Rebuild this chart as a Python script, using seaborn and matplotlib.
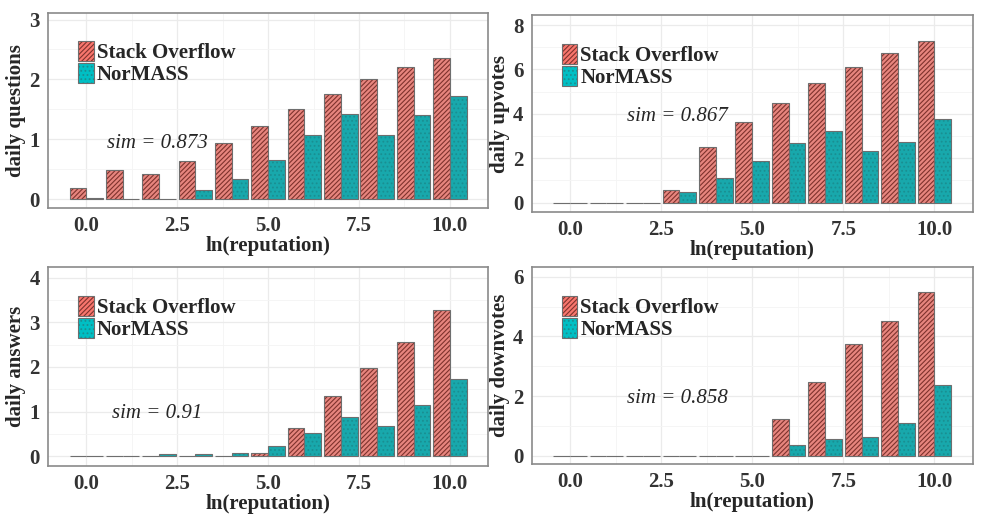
import numpy as np
import pandas as pd
import matplotlib
matplotlib.use('Agg')
import matplotlib.pyplot as plt
import matplotlib.patches as mpatches
from matplotlib.colors import to_rgba
from matplotlib.ticker import MultipleLocator, FormatStrFormatter
import seaborn as sns

# 数据 (ln(reputation) 分组 0..10)
reputation = list(range(11))
sources = ['Stack Overflow', 'NorMASS']

questions_so = [0.18, 0.49, 0.42, 0.64, 0.93, 1.22, 1.50, 1.76, 2.01, 2.21, 2.36]
questions_nm = [0.02, 0.00, 0.01, 0.16, 0.34, 0.66, 1.07, 1.43, 1.07, 1.40, 1.73]

upvotes_so = [0.0, 0.0, 0.0, 0.58, 2.53, 3.63, 4.51, 5.39, 6.13, 6.74, 7.30]
upvotes_nm = [0.0, 0.0, 0.0, 0.48, 1.11, 1.89, 2.67, 3.24, 2.35, 2.74, 3.78]

answers_so = [0.0, 0.0, 0.0, 0.0, 0.0, 0.07, 0.64, 1.35, 1.98, 2.57, 3.27]
answers_nm = [0.0, 0.0, 0.06, 0.045, 0.08, 0.24, 0.52, 0.87, 0.68, 1.14, 1.73]

downvotes_so = [0.0, 0.0, 0.0, 0.0, 0.0, 0.0, 1.23, 2.47, 3.74, 4.53, 5.49]
downvotes_nm = [0.0, 0.0, 0.0, 0.0, 0.0, 0.0, 0.35, 0.57, 0.64, 1.09, 2.37]

panels = [
    ('daily questions', questions_so, questions_nm, 'sim = 0.873'),
    ('daily upvotes', upvotes_so, upvotes_nm, 'sim = 0.867'),
    ('daily answers', answers_so, answers_nm, 'sim = 0.91'),
    ('daily downvotes', downvotes_so, downvotes_nm, 'sim = 0.858'),
]

# 样式
sns.set_style('white')
plt.rcParams['font.family'] = ['Liberation Serif', 'DejaVu Serif']
plt.rcParams['hatch.linewidth'] = 0.8

colors = {'Stack Overflow': '#F8766D', 'NorMASS': '#00BFC4'}
hatches = {'Stack Overflow': '///////', 'NorMASS': '....'}
hatch_colors = {'Stack Overflow': '#7e322d', 'NorMASS': '#1a8f92'}
edge = '#6e6e6e'


def style_patch(p, src):
    """填充纹理 + 灰色边框（纹理颜色单独设置）"""
    p.set_hatch(hatches[src])
    p.set_edgecolor(edge)
    p.set_linewidth(0.8)
    if hasattr(p, 'set_hatchcolor'):
        p.set_hatchcolor(hatch_colors[src])
    else:
        p._hatch_color = to_rgba(hatch_colors[src])


rects = [
    [0.049, 0.599, 0.4485, 0.376],
    [0.542, 0.5915, 0.4495, 0.3795],
    [0.049, 0.102, 0.4485, 0.3835],
    [0.542, 0.106, 0.4495, 0.3795],
]
ylims = [(-0.15, 3.11), (-0.42, 8.45), (-0.22, 4.24), (-0.28, 6.33)]
ysteps = [1, 2, 1, 2]
sim_pos = [(0.248, 0.333), (0.33, 0.484), (0.249, 0.266), (0.331, 0.335)]

fig = plt.figure(figsize=(9.81, 5.19), dpi=100)

for i, (ylabel, so, nm, sim) in enumerate(panels):
    ax = fig.add_axes(rects[i])
    df = pd.DataFrame({
        'rep': reputation * 2,
        'source': ['Stack Overflow'] * 11 + ['NorMASS'] * 11,
        'value': so + nm,
    })
    sns.barplot(data=df, x='rep', y='value', hue='source', hue_order=sources,
                native_scale=True, palette=colors, width=0.92, errorbar=None,
                legend=False, ax=ax, zorder=3)
    for src, cont in zip(sources, ax.containers):
        for bar in cont:
            style_patch(bar, src)

    ax.set_xlim(-1.05, 11.05)
    ax.set_ylim(*ylims[i])
    ax.xaxis.set_major_locator(MultipleLocator(2.5))
    ax.xaxis.set_minor_locator(MultipleLocator(1.25))
    ax.yaxis.set_major_locator(MultipleLocator(ysteps[i]))
    ax.yaxis.set_minor_locator(MultipleLocator(ysteps[i] / 2))
    ax.xaxis.set_major_formatter(FormatStrFormatter('%.1f'))
    ax.grid(True, which='major', color='#ebebeb', linewidth=0.9, zorder=0)
    ax.grid(True, which='minor', color='#f4f4f4', linewidth=0.6, zorder=0)
    ax.set_axisbelow(True)
    ax.tick_params(which='major', length=3, color='#666666', labelsize=15,
                   labelcolor='#333333', pad=3)
    ax.tick_params(which='minor', length=0)
    for lab in ax.get_xticklabels() + ax.get_yticklabels():
        lab.set_fontweight('bold')
    for sp in ax.spines.values():
        sp.set_color('#8a8a8a')
        sp.set_linewidth(1.2)

    ax.set_xlabel('ln(reputation)', fontsize=15, fontweight='bold', labelpad=0)
    ax.set_ylabel(ylabel, fontsize=15, fontweight='bold', labelpad=2)

    handles = []
    for s in sources:
        h = mpatches.Patch(facecolor=colors[s])
        style_patch(h, s)
        handles.append(h)
    ax.legend(handles, sources, loc='upper left', bbox_to_anchor=(0.068, 0.855),
              frameon=False, handlelength=0.75, handleheight=1.1,
              labelspacing=0.0, handletextpad=0.15, borderaxespad=0, borderpad=0,
              prop={'weight': 'bold', 'size': 15})

    ax.text(sim_pos[i][0], sim_pos[i][1], sim, transform=ax.transAxes,
            ha='center', va='center', fontsize=15, fontstyle='italic')

fig.savefig('out.png', dpi=100)
